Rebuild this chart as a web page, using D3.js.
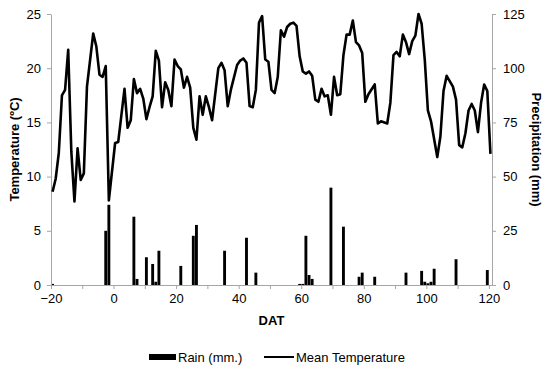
<!DOCTYPE html>
<html>
<head>
<meta charset="utf-8">
<script src="https://cdn.jsdelivr.net/npm/d3@7"></script>
<style>
    body { margin: 0; background: white; }
    svg { display: block; font-family: "Liberation Sans", Arial, sans-serif; }
    .axis path, .axis line { stroke: #a6a6a6; }
    .axis text { fill: #000; font-size: 13px; }
</style>
</head>
<body>
<svg width="550" height="369"></svg>
<script>
// daily mean temperature (degC), by day after transplanting
var tempDays = [-20, -19, -18, -17, -16, -15, -14, -13, -12, -11, -10, -9, -7, -6, -5, -4, -3, -2,
    0, 1, 3, 4, 5, 6, 7, 8, 9, 10, 11, 12, 13, 14, 15, 16, 17, 18, 19, 20, 21, 22, 23, 24,
    25, 26, 27, 28, 29, 30, 31, 33, 34, 35, 36, 37, 39, 40, 41, 42, 43, 44, 45, 46, 47, 48,
    49, 50, 51, 52, 53, 54, 55, 56, 57, 58, 59, 60, 61, 62, 63, 64, 65, 66, 67, 68, 69, 70,
    71, 72, 73, 74, 75, 76, 77, 78, 79, 80, 81, 83, 84, 85, 87, 88, 89, 90, 91, 92, 93, 94,
    95, 96, 97, 98, 99, 100, 101, 103, 104, 105, 106, 108, 109, 110, 111, 112, 113, 114, 115,
    116, 117, 118, 119, 120];
var tempValues = [8.6, 9.8, 12.2, 17.5, 18.0, 21.7, 12.3, 7.7, 12.6, 9.7, 10.3, 18.3, 23.2, 22.0, 19.4, 19.2, 20.2, 7.8,
    13.1, 13.2, 18.1, 14.5, 15.2, 19.0, 17.7, 18.1, 17.2, 15.3, 16.4, 17.4, 21.6, 20.7, 16.4, 18.7, 18.0, 16.5, 20.8, 20.2, 19.9, 18.2, 19.2, 18.2,
    14.5, 13.4, 17.4, 15.7, 17.4, 16.4, 15.2, 20.0, 20.5, 19.8, 16.5, 18.0, 20.3, 20.7, 20.9, 20.5, 16.5, 16.4, 18.0, 24.2, 24.8, 20.8,
    20.6, 18.0, 17.7, 19.2, 23.5, 22.9, 23.8, 24.1, 24.2, 23.9, 21.1, 19.7, 19.5, 19.7, 19.3, 17.1, 16.9, 18.1, 17.4, 17.5, 15.7, 19.2,
    17.5, 17.6, 21.2, 23.1, 23.1, 24.4, 22.4, 22.1, 21.4, 16.9, 17.6, 18.5, 14.9, 15.1, 14.9, 16.8, 21.2, 21.5, 21.1, 23.1, 22.4, 21.3,
    22.5, 23.0, 25.0, 24.1, 20.8, 16.1, 15.1, 11.8, 13.7, 17.9, 19.3, 18.3, 17.1, 12.9, 12.7, 14.0, 16.1, 16.7, 16.1,
    14.1, 16.8, 18.5, 17.9, 12.1];

// rain (mm) on the days it fell
var rainDays = [-20, -3, -2, 6, 7, 10, 12, 13, 14, 21, 25, 26, 35, 42, 45, 59, 60, 61, 62, 63,
    69, 73, 78, 79, 83, 93, 98, 99, 100, 101, 102, 109, 119];
var rainValues = [0.5, 25, 37, 31.5, 2.8, 12.8, 9.7, 1.5, 15.8, 8.8, 22.7, 27.7, 15.8, 21.8, 5.7, 0.5, 0.5, 22.7, 4.6, 2.8,
    44.9, 26.9, 3.8, 5.7, 3.8, 5.7, 6.5, 1.5, 0.8, 1.5, 7.5, 11.9, 6.9];

var xTicks = [-20, -10, 0, 10, 20, 30, 40, 50, 60, 70, 80, 90, 100, 110, 120];
var tempTicks = [0, 5, 10, 15, 20, 25];
var rainTicks = [0, 25, 50, 75, 100, 125];

var svg = d3.select("svg");

var plotLeft = 51, plotRight = 492, plotTop = 14, plotBottom = 285;

var x = d3.scaleLinear().domain([-20, 121]).range([plotLeft, plotRight]);
var yTemp = d3.scaleLinear().domain([0, 25]).range([plotBottom, plotTop]);
var yRain = d3.scaleLinear().domain([0, 125]).range([plotBottom, plotTop]);
var dayW = x(1) - x(0);

var temps = tempDays.map(function (d, i) { return { day: d, value: tempValues[i] }; });
var rains = rainDays.map(function (d, i) { return { day: d, value: rainValues[i] }; });

// bars
svg.append("g")
    .selectAll("rect")
    .data(rains)
    .enter()
    .append("rect")
    .attr("x", function (d) { return x(d.day + 0.5) - dayW * 0.46; })
    .attr("width", dayW * 0.92)
    .attr("y", function (d) { return yRain(d.value); })
    .attr("height", function (d) { return plotBottom - yRain(d.value); })
    .attr("fill", "black");

// axes
svg.append("g")
    .attr("class", "axis")
    .attr("transform", "translate(0," + plotBottom + ")")
    .call(d3.axisBottom(x).tickValues(xTicks).tickSize(4).tickSizeOuter(0)
        .tickFormat(function (d) { return d % 20 == 0 ? d3.format("d")(d) : ""; }))
    .selectAll("text").attr("dy", "0.85em");

svg.append("g")
    .attr("class", "axis")
    .attr("transform", "translate(" + plotLeft + ",0)")
    .call(d3.axisLeft(yTemp).tickValues(tempTicks).tickSize(4).tickSizeOuter(0).tickPadding(6));

svg.append("g")
    .attr("class", "axis")
    .attr("transform", "translate(" + plotRight + ",0)")
    .call(d3.axisRight(yRain).tickValues(rainTicks).tickSize(4).tickSizeOuter(0).tickPadding(7));

// temperature line
var line = d3.line()
    .x(function (d) { return x(d.day + 0.5); })
    .y(function (d) { return yTemp(d.value); });

svg.append("path")
    .datum(temps)
    .attr("d", line)
    .attr("fill", "none")
    .attr("stroke", "black")
    .attr("stroke-width", 2.6)
    .attr("stroke-linejoin", "round");

// titles
svg.append("text")
    .attr("transform", "translate(14," + ((plotTop + plotBottom) / 2) + ") rotate(-90)")
    .attr("text-anchor", "middle")
    .attr("dy", "0.35em")
    .style("font-size", "13px")
    .style("font-weight", "bold")
    .text("Temperature (ºC)");

svg.append("text")
    .attr("transform", "translate(537," + ((plotTop + plotBottom) / 2) + ") rotate(90)")
    .attr("text-anchor", "middle")
    .attr("dy", "0.35em")
    .style("font-size", "13px")
    .style("font-weight", "bold")
    .text("Precipitation (mm)");

svg.append("text")
    .attr("x", (plotLeft + plotRight) / 2)
    .attr("y", 325)
    .attr("text-anchor", "middle")
    .style("font-size", "13px")
    .style("font-weight", "bold")
    .text("DAT");

// legend
var legend = svg.append("g");
legend.append("rect")
    .attr("x", 149).attr("y", 354)
    .attr("width", 27).attr("height", 6)
    .attr("fill", "black");
legend.append("text")
    .attr("x", 178).attr("y", 361.5)
    .style("font-size", "13px")
    .text("Rain (mm.)");
legend.append("line")
    .attr("x1", 264).attr("x2", 294)
    .attr("y1", 357).attr("y2", 357)
    .attr("stroke", "black")
    .attr("stroke-width", 2);
legend.append("text")
    .attr("x", 296).attr("y", 361.5)
    .style("font-size", "13px")
    .text("Mean Temperature");
</script>
</body>
</html>
